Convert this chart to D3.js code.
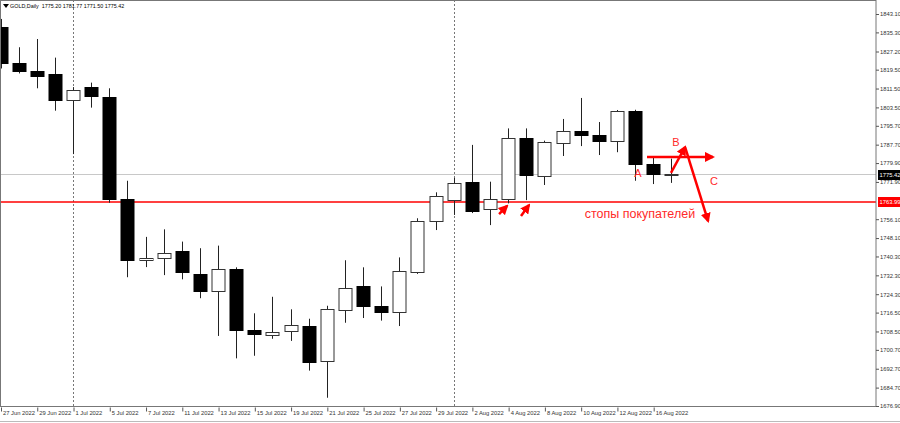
<!DOCTYPE html>
<html><head><meta charset="utf-8">
<script src="https://cdn.jsdelivr.net/npm/d3@7"></script>
<style>
body{margin:0;background:#fff;}
svg{display:block;}
text{font-family:"Liberation Sans",Arial,sans-serif;}
</style></head>
<body>
<script>
// ---- data ----
const dates = ["27 Jun","28 Jun","29 Jun","30 Jun","1 Jul","4 Jul","5 Jul","6 Jul","7 Jul","8 Jul",
 "11 Jul","12 Jul","13 Jul","14 Jul","15 Jul","18 Jul","19 Jul","20 Jul","21 Jul","22 Jul",
 "25 Jul","26 Jul","27 Jul","28 Jul","29 Jul","1 Aug","2 Aug","3 Aug","4 Aug","5 Aug",
 "8 Aug","9 Aug","10 Aug","11 Aug","12 Aug","15 Aug","16 Aug","17 Aug"];
const openV  = [1837.6,1822.2,1819.1,1817.5,1806.6,1812.0,1807.8,1764.7,1738.6,1739.4,
 1742.6,1732.7,1725.4,1735.0,1709.2,1707.3,1708.6,1710.9,1696.0,1717.9,
 1727.8,1719.2,1716.6,1734.0,1755.2,1764.5,1771.9,1760.3,1764.5,1790.4,
 1774.1,1788.3,1793.6,1791.8,1789.3,1802.0,1779.5,1775.20];
const highV  = [1841.0,1829.0,1832.5,1824.6,1812.1,1814.0,1811.6,1772.4,1748.6,1751.8,
 1746.6,1743.8,1744.9,1735.7,1716.2,1723.2,1717.9,1713.9,1719.4,1738.7,
 1735.7,1727.6,1739.9,1756.5,1767.5,1773.6,1787.6,1772.0,1794.6,1794.6,
 1789.4,1798.6,1807.5,1797.3,1802.4,1802.5,1782.3,1781.77];
const lowV   = [1820.0,1817.9,1811.6,1802.1,1783.7,1803.4,1763.1,1731.5,1735.8,1732.4,
 1730.6,1722.6,1706.6,1697.1,1698.2,1705.4,1704.5,1691.9,1680.4,1712.2,
 1714.2,1713.1,1710.8,1732.9,1751.5,1757.9,1758.7,1753.6,1762.8,1764.2,
 1770.6,1782.9,1787.1,1783.3,1784.5,1772.4,1771.0,1771.50];
const closeV = [1822.3,1818.9,1817.1,1806.6,1810.9,1808.3,1764.5,1738.8,1739.6,1741.6,
 1733.6,1725.7,1734.9,1709.0,1707.4,1708.4,1711.1,1695.7,1717.9,1727.1,
 1719.3,1716.6,1734.1,1755.5,1765.9,1771.6,1759.7,1764.7,1790.4,1774.8,
 1788.7,1793.5,1791.8,1789.4,1802.0,1779.5,1775.1,1775.42];
const priceTicks = [1843.10,1835.30,1827.20,1819.50,1811.50,1803.50,1795.70,1787.70,1779.90,1771.90,
 1756.10,1748.10,1740.30,1732.30,1724.30,1716.50,1708.50,1700.70,1692.70,1684.70,1676.90];
const dateTickIdx = [0,2,4,6,8,10,12,14,16,18,20,22,24,26,28,30,32,34,36];
const dateTickLabels = ["27 Jun 2022","29 Jun 2022","1 Jul 2022","5 Jul 2022","7 Jul 2022","11 Jul 2022",
 "13 Jul 2022","15 Jul 2022","19 Jul 2022","21 Jul 2022","25 Jul 2022","27 Jul 2022","29 Jul 2022",
 "2 Aug 2022","4 Aug 2022","8 Aug 2022","10 Aug 2022","12 Aug 2022","16 Aug 2022"];
const monthSepIdx = [4,25];
const currentPrice = 1775.42;
const stopLevel = 1763.99;
const headerText = "GOLD,Daily  1775.20 1781.77 1771.50 1775.42";
// annotations in (bar index, price)
const labelNames = ["A","B","C","стопы покупателей"];
const labelIdx   = [35.16,37.26,39.35,35.27];
const labelPrice = [1775.7,1788.8,1772.3,1758.3];
const arrowFromIdx   = [27.5,28.71,35.66,36.98,37.76];
const arrowFromPrice = [1758.3,1757.5,1782.5,1775.7,1786.7];
const arrowToIdx     = [27.94,29.15,39.3,37.76,39.03];
const arrowToPrice   = [1761.7,1762.1,1782.5,1786.7,1755.3];

// ---- layout ----
const W=900,H=423, plotR=876, plotB=406.5, FS="5.8px";
const svg=d3.select("body").append("svg").attr("width",W).attr("height",H);
const x=d3.scaleLinear().domain([0,37]).range([0.5,0.5+37*18.13]);
const y=d3.scaleLinear().domain([1676.9,1843.1]).range([406,14]);

const defs=svg.append("defs");
defs.append("clipPath").attr("id","clip").append("rect").attr("x",0).attr("y",0).attr("width",plotR).attr("height",plotB);
defs.append("marker").attr("id","ah").attr("viewBox","0 0 10 10").attr("refX",8).attr("refY",5)
  .attr("markerWidth",4).attr("markerHeight",4).attr("orient","auto")
  .append("path").attr("d","M0,0 L10,5 L0,10 z").attr("fill","#ff0000");

const g=svg.append("g").attr("clip-path","url(#clip)");

// month separators
g.selectAll(".sep").data(monthSepIdx).join("line")
  .attr("x1",d=>Math.round(x(d))+0.5).attr("x2",d=>Math.round(x(d))+0.5)
  .attr("y1",0).attr("y2",plotB+2).attr("stroke","#777").attr("stroke-dasharray","2,2").attr("stroke-width",1);

// current price line
g.append("line").attr("x1",0).attr("x2",plotR).attr("y1",Math.round(y(currentPrice))+0.5).attr("y2",Math.round(y(currentPrice))+0.5)
  .attr("stroke","#c8c8c8").attr("stroke-width",1);
// stop line
g.append("line").attr("x1",0).attr("x2",plotR).attr("y1",Math.round(y(stopLevel))+1).attr("y2",Math.round(y(stopLevel))+1)
  .attr("stroke","#ff0000").attr("stroke-width",1.5);

// candles
const idx=d3.range(dates.length);
const bw=13;
g.selectAll(".wick").data(idx).join("line")
  .attr("x1",i=>Math.round(x(i))+0.5).attr("x2",i=>Math.round(x(i))+0.5)
  .attr("y1",i=>y(highV[i])).attr("y2",i=>y(lowV[i])).attr("stroke","#222").attr("stroke-width",1);
g.selectAll(".body").data(idx).join("rect")
  .attr("x",i=>Math.round(x(i))-bw/2+0.5)
  .attr("y",i=>Math.round(y(Math.max(openV[i],closeV[i])))+0.5)
  .attr("width",bw)
  .attr("height",i=>Math.max(1,Math.round(Math.abs(y(openV[i])-y(closeV[i])))))
  .attr("fill",i=>closeV[i]<openV[i]?"#000":"#fff")
  .attr("stroke",i=>closeV[i]<openV[i]?"#000":"#333").attr("stroke-width",1);

// annotations
const ann=svg.append("g");
ann.selectAll(".arr").data(arrowFromIdx.map((d,i)=>i)).join("line")
  .attr("x1",i=>x(arrowFromIdx[i])).attr("y1",i=>y(arrowFromPrice[i]))
  .attr("x2",i=>x(arrowToIdx[i])).attr("y2",i=>y(arrowToPrice[i]))
  .attr("stroke","#ff0000").attr("stroke-width",2.5).attr("marker-end","url(#ah)");
ann.selectAll(".lbl").data(labelNames.map((d,i)=>i)).join("text")
  .attr("x",i=>x(labelIdx[i])).attr("y",i=>y(labelPrice[i])).attr("dy","0.35em")
  .attr("text-anchor","middle").attr("fill","#ff2a2a")
  .style("font-size",i=>i===3?"12.5px":"11px").text(i=>labelNames[i]);

// frame
svg.append("rect").attr("x",0.5).attr("y",0.5).attr("width",plotR-0.5).attr("height",plotB-0.5)
  .attr("fill","none").attr("stroke","#777").attr("stroke-width",1);

// y axis
const ya=svg.append("g").attr("transform",`translate(${plotR},0)`)
  .call(d3.axisRight(y).tickValues(priceTicks).tickSize(3).tickPadding(1).tickFormat(d=>d.toFixed(2)));
ya.select(".domain").remove();
ya.selectAll("text").style("font-size",FS).attr("fill","#333").style("font-family","'Liberation Sans',Arial,sans-serif");
ya.selectAll("line").attr("stroke","#555");

// price boxes
const boxes=[{p:currentPrice,bg:"#000",fg:"#fff"},{p:stopLevel,bg:"#ff0000",fg:"#fff"}];
const pb=svg.append("g").selectAll("g").data(boxes).join("g")
  .attr("transform",d=>`translate(${plotR+2},${Math.round(y(d.p))+1})`);
pb.append("rect").attr("x",0).attr("y",-5).attr("width",22).attr("height",10).attr("fill",d=>d.bg);
pb.append("text").attr("x",1.5).attr("y",0).attr("dy","0.35em").attr("fill",d=>d.fg)
  .style("font-size",FS).text(d=>d.p.toFixed(2));

// x axis
const xa=svg.append("g").attr("transform",`translate(0,${plotB})`)
  .call(d3.axisBottom(x).tickValues(dateTickIdx).tickSize(4).tickFormat((d,i)=>dateTickLabels[i]));
xa.select(".domain").remove();
xa.selectAll(".tick line").attr("stroke","#555").attr("transform","translate(0.5,1)");
xa.selectAll("text").attr("text-anchor","start").attr("dx","2").attr("y",4).attr("dy","0.71em")
  .style("font-size",FS).attr("fill","#333").style("font-family","'Liberation Sans',Arial,sans-serif");

// bottom bar line
svg.append("line").attr("x1",0).attr("x2",W).attr("y1",421.5).attr("y2",421.5).attr("stroke","#bbb");

// header
svg.append("path").attr("d","M3,4 L9,4 L6,8 z").attr("fill","#000");
svg.append("text").attr("x",10).attr("y",6).attr("dy","0.35em").style("font-size","5.4px").attr("fill","#000")
  .attr("xml:space","preserve").style("white-space","pre").text(headerText);
</script>
</body></html>
